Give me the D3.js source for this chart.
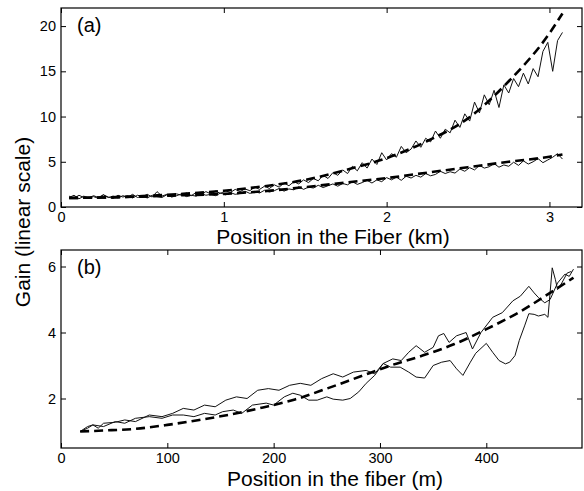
<!DOCTYPE html>
<html>
<head>
<meta charset="utf-8">
<script src="https://cdn.jsdelivr.net/npm/d3@7"></script>
<style>
  html, body { margin: 0; padding: 0; background: #fff; }
  svg { display: block; font-family: "Liberation Sans", Arial, sans-serif; }
  .tick text { font-size: 14.5px; fill: #000; }
  .tick line { stroke: #000; stroke-width: 1; }
</style>
</head>
<body>
<div class="chart"></div>
<script>
// panel (a): measured traces sampled every 30 m from 0.05 km
var aStart = 0.05, aStep = 0.03;
var aUpper = [1.2, 0.95, 1.3, 1.05, 1.0, 1.25, 1.05, 1.35, 1.1, 0.95,
    1.3, 1.1, 1.25, 1.0, 1.3, 1.15, 1.4, 1.1, 1.7, 1.2,
    1.4, 1.15, 1.45, 1.3, 1.55, 1.25, 1.6, 1.4, 1.7, 1.45,
    1.75, 1.5, 1.8, 1.6, 1.95, 1.7, 2.0, 1.8, 2.2, 1.95,
    2.3, 2.05, 2.45, 2.2, 2.65, 2.35, 2.8, 2.55, 3.0, 2.7,
    3.15, 2.9, 3.5, 3.15, 3.8, 3.5, 4.1, 3.7, 4.5, 4.0,
    4.9, 4.3, 5.3, 4.7, 6.0, 5.2, 5.9, 5.5, 6.7, 6.0,
    6.4, 7.3, 6.6, 7.6, 7.2, 8.4, 7.6, 8.6, 8.2, 9.6,
    8.8, 10.3, 9.5, 11.6, 10.4, 12.4, 11.3, 12.9, 11.0, 13.5,
    12.6, 14.2, 13.3, 14.8, 13.6, 15.3, 14.4, 17.2, 18.2, 15.0,
    18.4, 19.3];
var aLower = [1.05, 1.3, 0.9, 1.2, 1.0, 1.15, 0.95, 1.35, 1.05, 1.2,
    1.0, 1.25, 1.1, 1.4, 1.05, 1.2, 1.0, 1.3, 1.15, 1.05,
    1.35, 1.1, 1.25, 1.45, 1.15, 1.3, 1.2, 1.5, 1.3, 1.4,
    1.25, 1.55, 1.35, 1.6, 1.4, 1.5, 1.75, 1.5, 1.7, 1.55,
    1.85, 1.65, 1.8, 2.05, 1.75, 2.0, 1.9, 2.25, 1.95, 2.2,
    2.1, 2.4, 2.15, 2.35, 2.55, 2.3, 2.6, 2.45, 2.8, 2.5,
    2.7, 2.95, 2.65, 3.0, 2.8, 3.25, 3.0, 3.3, 2.95, 3.4,
    3.2, 3.5, 3.3, 3.7, 3.45, 3.6, 3.95, 3.7, 3.9, 3.75,
    4.2, 3.95, 4.35, 4.1, 4.6, 4.3, 4.45, 4.8, 4.4, 4.65,
    4.5, 4.95, 4.6, 5.1, 4.75, 5.0, 5.35, 4.9, 5.2, 5.5,
    5.9, 5.3];
// panel (a): fitted curves (dashed)
var aFitPos = [0.05, 0.25, 0.5, 0.75, 1.0, 1.25, 1.5, 1.75, 2.0, 2.25, 2.5, 2.75, 3.0, 3.08];
var aFitUpper = [1.0, 1.05, 1.2, 1.45, 1.8, 2.3, 3.0, 4.1, 5.4, 7.3, 9.8, 13.9, 19.2, 21.4];
var aFitLower = [1.0, 1.05, 1.15, 1.3, 1.45, 1.75, 2.2, 2.7, 3.2, 3.8, 4.4, 5.0, 5.55, 5.8];

// panel (b): two measured traces and a fit
var bPos1 = [18, 25, 30, 35, 40, 51, 60, 70, 83, 95, 105, 115, 125, 135, 145, 155, 165, 175, 185, 195,
    205, 215, 225, 235, 245, 256, 265, 275, 287, 295, 303, 312, 320, 327, 334, 342, 350, 355, 360, 365,
    372, 381, 387, 395, 406, 415, 425, 432, 440, 445, 449, 455, 460, 467, 474, 478, 482];
var bGain1 = [1.0, 1.15, 1.2, 1.1, 1.25, 1.28, 1.35, 1.3, 1.5, 1.45, 1.55, 1.7, 1.65, 1.8, 1.75, 1.95, 2.05, 2.0, 2.25, 2.3,
    2.25, 2.4, 2.46, 2.4, 2.6, 2.75, 2.65, 2.8, 2.85, 2.75, 3.06, 3.2, 3.15, 3.4, 3.6, 3.4, 3.55, 3.9, 3.97, 3.7,
    3.9, 4.0, 3.5, 4.0, 4.46, 4.6, 4.96, 5.1, 5.4, 5.2, 5.06, 4.9, 5.0, 5.5, 5.77, 5.7, 5.92];
var bPos2 = [18, 25, 30, 40, 51, 60, 70, 83, 95, 105, 115, 125, 135, 145, 152, 162, 170, 180, 193, 200,
    210, 218, 225, 233, 241, 250, 256, 265, 272, 280, 287, 295, 303, 310, 319, 327, 334, 342, 350, 358,
    366, 372, 378, 385, 390, 400, 406, 412, 418, 422, 427, 431, 436, 440, 445, 449, 455, 458, 462, 465,
    467, 471, 476, 480];
var bGain2 = [1.0, 1.1, 1.2, 1.15, 1.3, 1.25, 1.4, 1.45, 1.4, 1.5, 1.5, 1.45, 1.55, 1.5, 1.6, 1.65, 1.55, 1.8, 1.86, 1.8,
    2.05, 2.16, 2.1, 1.95, 1.95, 2.05, 1.98, 1.95, 2.0, 2.2, 2.46, 2.7, 3.06, 2.95, 2.95, 2.8, 2.65, 2.62, 3.0, 3.1,
    3.15, 2.9, 2.7, 3.1, 3.37, 3.67, 3.4, 3.15, 3.05, 3.1, 3.3, 3.76, 4.2, 4.57, 4.55, 4.5, 4.55, 4.46, 5.96, 5.6,
    5.3, 5.5, 5.8, 5.85];
var bFitPos = [18, 40, 70, 100, 130, 160, 190, 220, 250, 280, 310, 340, 370, 400, 430, 460, 482];
var bFit = [1.0, 1.03, 1.08, 1.2, 1.35, 1.52, 1.73, 1.97, 2.3, 2.65, 3.0, 3.3, 3.65, 4.1, 4.6, 5.2, 5.66];

// tick labels
var aXTicks = [0, 1, 2, 3], aYTicks = [0, 5, 10, 15, 20];
var bXTicks = [0, 100, 200, 300, 400], bYTicks = [2, 4, 6];

var svg = d3.select('.chart')
    .append('svg')
    .attr('width', 584)
    .attr('height', 491);

function zip(xs, ys) {
    return ys.map(function(v, i) { return [xs[i], v]; });
}

var fmt = d3.format('d');

function panel(o) {
    var x = d3.scaleLinear().domain(o.xDomain).range([61, 582]);
    var y = d3.scaleLinear().domain(o.yDomain).range([o.bottom, o.top]);
    var g = svg.append('g');

    g.append('g')
        .attr('transform', 'translate(0,' + o.bottom + ')')
        .call(d3.axisBottom(x).tickValues(o.xTicks).tickFormat(fmt).tickSizeInner(-5).tickSizeOuter(0).tickPadding(5));
    g.append('g')
        .attr('transform', 'translate(0,' + o.top + ')')
        .call(d3.axisTop(x).tickValues(o.xTicks).tickSizeInner(-5).tickSizeOuter(0).tickFormat(''));
    g.append('g')
        .attr('transform', 'translate(61,0)')
        .call(d3.axisLeft(y).tickValues(o.yTicks).tickFormat(fmt).tickSizeInner(-5).tickSizeOuter(0).tickPadding(5));
    g.append('g')
        .attr('transform', 'translate(582,0)')
        .call(d3.axisRight(y).tickValues(o.yTicks).tickSizeInner(-5).tickSizeOuter(0).tickFormat(''));
    g.selectAll('.domain').remove();
    g.selectAll('g').attr('font-family', null).attr('font-size', null);

    g.append('rect')
        .attr('x', 61)
        .attr('y', o.top)
        .attr('width', 521)
        .attr('height', o.bottom - o.top)
        .attr('fill', 'none')
        .attr('stroke', '#000')
        .attr('stroke-width', 1.2);

    var line = d3.line()
        .x(function(d) { return x(d[0]); })
        .y(function(d) { return y(d[1]); });
    var fitLine = d3.line()
        .curve(d3.curveMonotoneX)
        .x(function(d) { return x(d[0]); })
        .y(function(d) { return y(d[1]); });

    o.traces.forEach(function(t) {
        g.append('path')
            .datum(t)
            .attr('d', line)
            .attr('fill', 'none')
            .attr('stroke', '#111')
            .attr('stroke-width', 1)
            .attr('stroke-linejoin', 'round');
    });
    o.fits.forEach(function(t) {
        g.append('path')
            .datum(t)
            .attr('d', fitLine)
            .attr('fill', 'none')
            .attr('stroke', '#000')
            .attr('stroke-width', 2.6)
            .attr('stroke-dasharray', '9,5');
    });

    g.append('text')
        .attr('x', 77)
        .attr('y', o.top + 24)
        .attr('font-size', 20)
        .text(o.tag);

    g.append('text')
        .attr('x', o.labelX)
        .attr('y', o.labelY)
        .attr('text-anchor', 'middle')
        .attr('font-size', 21)
        .text(o.xLabel);
}

var aPos = aUpper.map(function(v, i) { return aStart + i * aStep; });

panel({
    xDomain: [0, 3.2], yDomain: [0, 22],
    top: 8, bottom: 207,
    xTicks: aXTicks, yTicks: aYTicks,
    traces: [zip(aPos, aUpper), zip(aPos, aLower)],
    fits: [zip(aFitPos, aFitUpper), zip(aFitPos, aFitLower)],
    tag: '(a)',
    xLabel: 'Position in the Fiber (km)', labelX: 333, labelY: 244
});

panel({
    xDomain: [0, 490], yDomain: [0.5, 6.5],
    top: 250, bottom: 448,
    xTicks: bXTicks, yTicks: bYTicks,
    traces: [zip(bPos1, bGain1), zip(bPos2, bGain2)],
    fits: [zip(bFitPos, bFit)],
    tag: '(b)',
    xLabel: 'Position in the fiber (m)', labelX: 335, labelY: 486
});

svg.append('text')
    .attr('transform', 'translate(30,222) rotate(-90)')
    .attr('text-anchor', 'middle')
    .attr('font-size', 21)
    .text('Gain (linear scale)');
</script>
</body>
</html>
